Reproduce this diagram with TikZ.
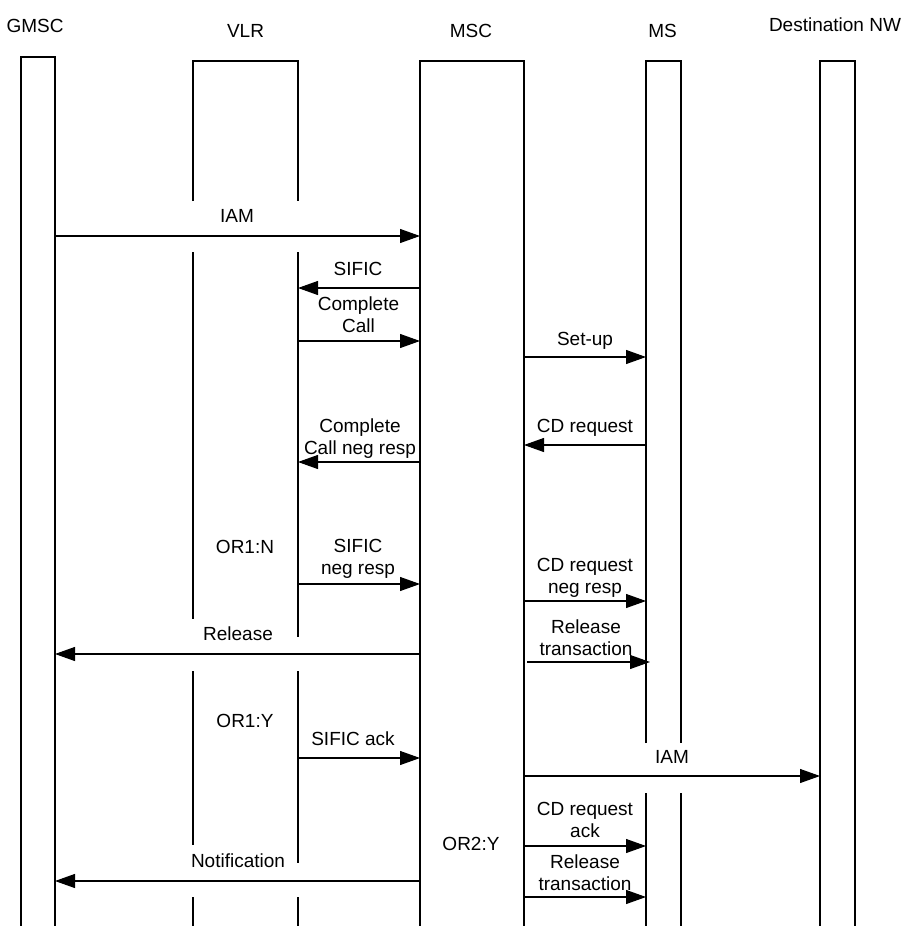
\documentclass[tikz,border=0pt]{standalone}
\usepackage{fontspec}
\setmainfont{Liberation Sans}
\usetikzlibrary{arrows.meta}
\tikzset{
	lifeline/.style={line width=1.1pt},
	msg/.style={line width=1.1pt, -{Triangle[length=20pt, width=14pt]}},
	entity/.style={anchor=base, inner sep=0pt, font=\fontsize{19}{22}\selectfont},
	msglabel/.style={anchor=base, align=center, inner sep=0pt, font=\fontsize{19}{22}\selectfont},
}

\begin{document}
\begin{tikzpicture}[x=1pt, y=-1pt]
	\useasboundingbox (0,0) rectangle (904,926);
	% lifeline edges
	\foreach \nm/\xx in {gmscL/21, gmscR/55, vlrL/193, vlrR/298, mscL/420, mscR/524, msL/646, msR/681, destL/820, destR/855}
		\coordinate (\nm) at (\xx,0);
	% entities
	\foreach \nm/\xx/\yy/\txt in {gmsc/35/32/GMSC, vlr/245.5/37/VLR, msc/471/37/MSC, ms/662.5/37/MS, dest/835/31/Destination NW}
		\node[entity] (\nm) at (\xx,\yy) {\txt};
	% boxes
	\draw[lifeline] (gmscL |- 0,926) -- (gmscL |- 0,57) -- (gmscR |- 0,57) -- (gmscR |- 0,926);
	\draw[lifeline] (vlrL |- 0,201) -- (vlrL |- 0,61) -- (vlrR |- 0,61) -- (vlrR |- 0,201);
	\draw[lifeline] (mscL |- 0,926) -- (mscL |- 0,61) -- (mscR |- 0,61) -- (mscR |- 0,926);
	\draw[lifeline] (msL |- 0,743) -- (msL |- 0,61) -- (msR |- 0,61) -- (msR |- 0,743);
	\draw[lifeline] (destL |- 0,926) -- (destL |- 0,61) -- (destR |- 0,61) -- (destR |- 0,926);
	\foreach \ln/\ya/\yb in {vlrL/252/619, vlrR/252/637, vlrL/671/845, vlrR/671/863, vlrL/897/926, vlrR/897/926, msL/793/926, msR/793/926}
		\draw[lifeline] (\ln |- 0,\ya) -- (\ln |- 0,\yb);
	% messages
	\foreach \a/\b/\yy in {gmscR/mscL/236, mscL/vlrR/288, vlrR/mscL/341, mscR/msL/357, msL/mscR/445, mscL/vlrR/462, vlrR/mscL/584, mscR/msL/601, mscL/gmscR/654, vlrR/mscL/758, mscR/destL/776, mscR/msL/846, mscL/gmscR/881, mscR/msL/897}
		\draw[msg] (\a |- 0,\yy) -- (\b |- 0,\yy);
	\draw[msg, shorten <=3pt, shorten >=-4pt] (mscR |- 0,662) -- (msL |- 0,662);
	% labels (base = last line)
	\node[msglabel] (iamA) at (237,222) {IAM};
	\node[msglabel] (sific) at (358,275) {SIFIC};
	\node[msglabel] (cc) at (358.5,332) {Complete\\Call};
	\node[msglabel] (setup) at (585,345) {Set-up};
	\node[msglabel] (cdreq) at (585,432) {CD request};
	\node[msglabel] (ccneg) at (360,454) {Complete\\Call neg resp};
	\node[msglabel] (orN) at (245,553) {OR1:N};
	\node[msglabel] (sificneg) at (358,574) {SIFIC\\neg resp};
	\node[msglabel] (cdneg) at (585,593) {CD request\\neg resp};
	\node[msglabel] (rel) at (238,640) {Release};
	\node[msglabel] (reltrA) at (586,655) {Release\\transaction};
	\node[msglabel] (orY) at (245,727) {OR1:Y};
	\node[msglabel] (sificack) at (353,745) {SIFIC ack};
	\node[msglabel] (iamB) at (672,763) {IAM};
	\node[msglabel] (cdack) at (585,837) {CD request\\ack};
	\node[msglabel] (orYY) at (471,850) {OR2:Y};
	\node[msglabel] (notif) at (238,867) {Notification};
	\node[msglabel] (reltrB) at (585,890) {Release\\transaction};
\end{tikzpicture}
\end{document}
